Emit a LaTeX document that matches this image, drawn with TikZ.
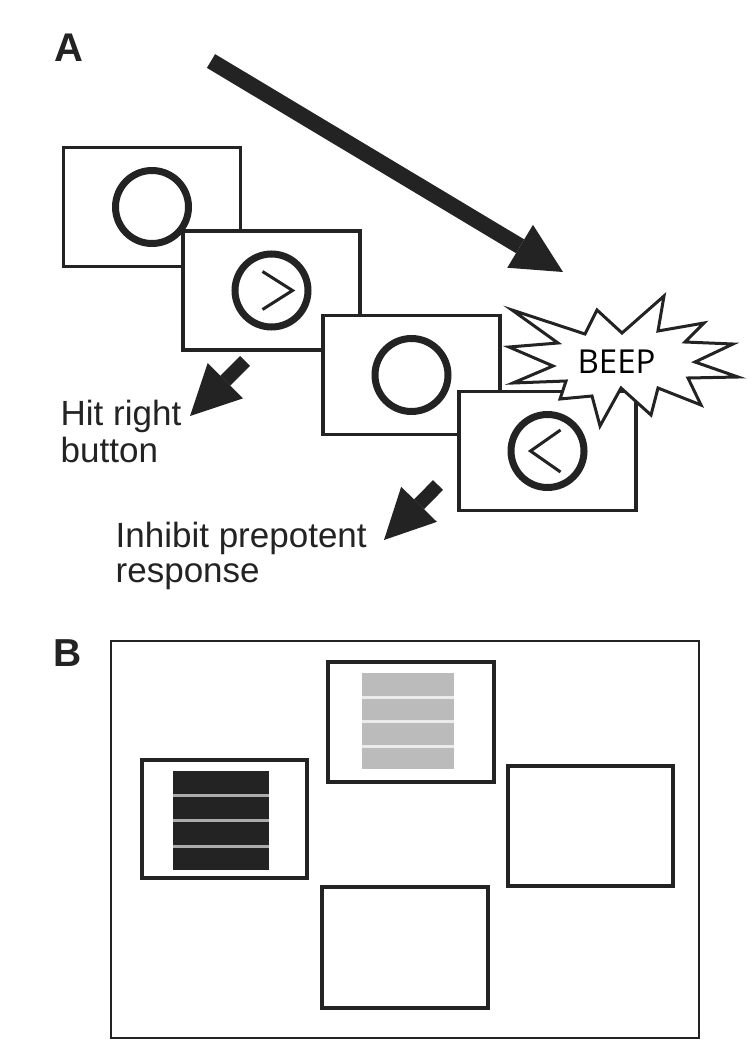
\documentclass[tikz,border=0pt]{standalone}
\usepackage{fontspec}
\setmainfont{Liberation Sans}
\newfontfamily\beepfont{Open Sans}
\usetikzlibrary{arrows.meta}
\definecolor{ink}{HTML}{232323}
\definecolor{stripegray}{HTML}{ABABAB}
\definecolor{blockgray}{HTML}{BBBBBB}
\begin{document}
\begin{tikzpicture}[x=1pt,y=-1pt,
  screen/.style={draw=ink, line width=3.5pt, fill=white, minimum width=177pt, minimum height=119pt, inner sep=0pt},
  ring/.style={draw=ink, line width=7pt, circle, minimum size=73pt, inner sep=0pt},
  chev/.style={draw=ink, line width=3pt},
  bigarrow/.style={draw=ink, line width=16pt, -{Triangle[length=50pt,width=50pt,line width=0pt]}},
  smallarrow/.style={draw=ink, line width=14pt, -{Triangle[length=50pt,width=50pt,line width=0pt]}},
  lbl/.style={font=\fontsize{35}{38}\selectfont, anchor=base west, inner sep=0pt, text=ink},
  panel/.style={font=\bfseries\fontsize{40}{44}\selectfont, anchor=base west, inner sep=0pt, text=ink},
  tile/.style={draw=ink, line width=4pt, fill=white, minimum width=166pt, minimum height=120pt, inner sep=0pt}
]
\useasboundingbox (0,0) rectangle (750,1054);
\fill[white] (0,0) rectangle (750,1054);

% ---------- Panel A ----------
\node[panel] (labA) at (54,62) {A};

\node[screen] (s1) at (152,207) {};
\node[ring] (c1) at (s1.center) {};
\node[screen] (s2) at (271.5,290.5) {};
\node[ring] (c2) at (s2.center) {};
\draw[chev] ([shift={(-9,-19)}]s2.center) -- ([shift={(21,0)}]s2.center) -- ([shift={(-9,19)}]s2.center);
\node[screen] (s3) at (411.5,375) {};
\node[ring] (c3) at (s3.center) {};
\node[screen] (s4) at (547.5,451) {};
\node[ring] (c4) at (s4.center) {};
\draw[chev] ([shift={(13,-21)}]s4.center) -- ([shift={(-17,0)}]s4.center) -- ([shift={(13,21)}]s4.center);

% BEEP burst
\draw[ink, line width=3pt, fill=white, line join=miter]
  (512,310) -- (585,334) -- (597,310) -- (622,333) -- (664,296) -- (658,331)
  -- (704,323) -- (685,342) -- (733,344) -- (695,362) -- (738,377) -- (688,378)
  -- (701,405) -- (658,388) -- (651,415) -- (621,388) -- (600,426) -- (592,396)
  -- (560,399) -- (566,381) -- (513,383) -- (553,366) -- (509,347) -- (558,343) -- cycle;
\node[font=\beepfont\fontsize{33}{36}\selectfont, anchor=base, inner sep=0pt, text=black] (beep) at (616.5,373) {BEEP};

% arrows
\coordinate (bigtail) at (211,61);
\coordinate (bigtip) at (563,272);
\draw[bigarrow] (bigtail) -- (bigtip);

\coordinate (hittail) at (245,361);
\coordinate (hittip) at (190,416);
\draw[smallarrow] (hittail) -- (hittip);

\coordinate (inhtail) at (438,485);
\coordinate (inhtip) at (384,540);
\draw[smallarrow] (inhtail) -- (inhtip);

\node[lbl] (hit1) at (60.5,425) {Hit right};
\node[lbl] (hit2) at (60.5,462) {button};
\node[lbl] (inh1) at (115.5,547) {Inhibit prepotent};
\node[lbl] (inh2) at (115.5,582) {response};

% ---------- Panel B ----------
\node[panel, font=\bfseries\fontsize{39}{43}\selectfont] (labB) at (53,666) {B};
\node[draw=ink, line width=2.5pt, minimum width=588pt, minimum height=397pt, inner sep=0pt] (frame) at (405,839.5) {};

\node[tile, minimum width=165pt, minimum height=118pt] (tl) at (224.5,819) {};
\node[tile] (tt) at (411,722) {};
\node[tile, minimum width=165pt] (tr) at (590.5,826) {};
\node[tile, minimum height=121pt] (tb) at (405,947.5) {};

\fill[ink] (173,771) rectangle (269,870);
\foreach \yy in {795,820,846} \draw[stripegray, line width=3pt] (173,\yy) -- (269,\yy);
\fill[blockgray] (362,673) rectangle (454,769);
\foreach \yy in {697,721,746} \draw[white!92!black, line width=3pt] (362,\yy) -- (454,\yy);
\end{tikzpicture}
\end{document}
